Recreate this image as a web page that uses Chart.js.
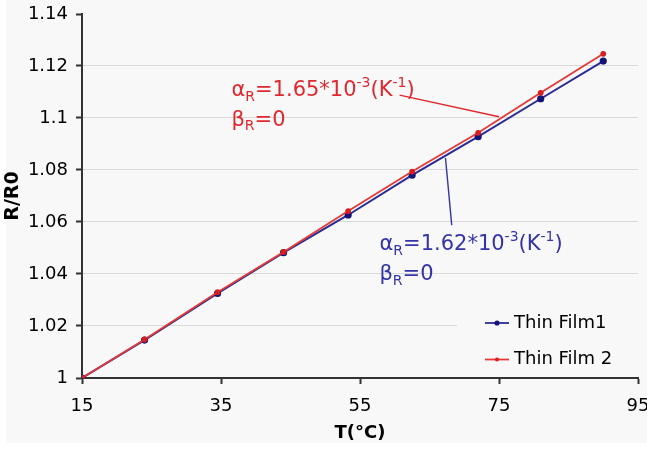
<!DOCTYPE html>
<html>
<head>
<meta charset="utf-8">
<script src="https://cdn.jsdelivr.net/npm/chart.js@4.4.1/dist/chart.umd.min.js"></script>
<style>
html,body{margin:0;padding:0;background:#fff;}
</style>
</head>
<body>
<canvas id="chart" width="647" height="449"></canvas>
<script>
// Temperature sweep and normalised resistance of both films
const temps = [15, 24, 34.5, 44, 53.3, 62.5, 72, 81, 90];
const film1 = [1, 1.0146, 1.0325, 1.0482, 1.0627, 1.0780, 1.0928, 1.1074, 1.1219];
const film2 = [1, 1.0148, 1.0330, 1.0485, 1.0642, 1.0794, 1.0943, 1.1097, 1.1247];
const seriesNames = ['Thin Film1', 'Thin Film 2'];
const xTicks = [15, 35, 55, 75, 95];
const yTicks = [1, 1.02, 1.04, 1.06, 1.08, 1.1, 1.12, 1.14];
const alphaValues = ['1.65', '1.62'];

const FONT = "'DejaVu Sans', Verdana, sans-serif";
const BG = '#f8f8f8';
const AXIS = '#333333';
const BLUE = '#2b2b96';
const RED = '#e53935';

// fitted coefficient callouts, anchored in data units
const notes = [
    {color: '#e0282e', at: [36.5, 1.1105, 1.0992], alpha: alphaValues[0], lead: [[60.7, 1.1088], [75.0, 1.1005]]},
    {color: '#3434a6', at: [57.8, 1.0512, 1.0396], alpha: alphaValues[1], lead: [[67.3, 1.0846], [68.2, 1.0588]]}
];

// draws text runs with sub/superscripts, middle baseline
function drawRich(ctx, x, y, parts, size){
    ctx.textBaseline = 'middle';
    ctx.textAlign = 'left';
    parts.forEach(([t, s])=>{
        const fs = s === 0 ? size : Math.round(size*0.65);
        ctx.font = fs + 'px ' + FONT;
        const dy = s < 0 ? size*0.3 : (s > 0 ? -size*0.36 : 0);
        ctx.fillText(t, x, y + dy);
        x += ctx.measureText(t).width;
    });
}

const decorPlugin = {
    id: 'decor',
    beforeDraw(chart){
        const ctx = chart.ctx;
        ctx.save();
        ctx.fillStyle = '#ffffff';
        ctx.fillRect(0, 0, chart.width, chart.height);
        ctx.fillStyle = BG;
        ctx.fillRect(6, 0, chart.width - 6, 443);
        ctx.restore();
    },
    beforeDatasetsDraw(chart){
        // legend panel hides the grid behind it
        const ctx = chart.ctx, ca = chart.chartArea;
        ctx.save();
        ctx.fillStyle = BG;
        ctx.fillRect(ca.right - 181, ca.bottom - 78, 184, 76);
        ctx.restore();
    },
    afterDatasetsDraw(chart){
        const ctx = chart.ctx, ca = chart.chartArea;
        const xs = chart.scales.x, ys = chart.scales.y;
        ctx.save();

        notes.forEach(n=>{
            ctx.strokeStyle = n.color;
            ctx.lineWidth = 1.4;
            ctx.beginPath();
            ctx.moveTo(xs.getPixelForValue(n.lead[0][0]), ys.getPixelForValue(n.lead[0][1]));
            ctx.lineTo(xs.getPixelForValue(n.lead[1][0]), ys.getPixelForValue(n.lead[1][1]));
            ctx.stroke();
            ctx.fillStyle = n.color;
            const tx = xs.getPixelForValue(n.at[0]);
            drawRich(ctx, tx, ys.getPixelForValue(n.at[1]),
                [['α',0],['R',-1],['=' + n.alpha + '*10',0],['-3',1],['(K',0],['-1',1],[')',0]], 21);
            drawRich(ctx, tx, ys.getPixelForValue(n.at[2]),
                [['β',0],['R',-1],['=0',0]], 21);
        });

        // legend
        chart.data.datasets.forEach((ds, i)=>{
            const y = ca.bottom - 55 + i*36.5;
            const x0 = ca.right - 153;
            ctx.strokeStyle = ds.borderColor;
            ctx.lineWidth = 1.8;
            ctx.beginPath();
            ctx.moveTo(x0, y);
            ctx.lineTo(x0 + 24, y);
            ctx.stroke();
            ctx.fillStyle = ds.pointBackgroundColor;
            ctx.beginPath();
            ctx.arc(x0 + 12, y, ds.pointRadius, 0, Math.PI*2);
            ctx.fill();
            ctx.fillStyle = '#000';
            ctx.font = '18px ' + FONT;
            ctx.textBaseline = 'middle';
            ctx.textAlign = 'left';
            ctx.fillText(ds.label, x0 + 29, y);
        });
        ctx.restore();
    }
};

const points = vals => temps.map((t, i)=>({x: t, y: vals[i]}));

new Chart(document.getElementById('chart'), {
    type: 'line',
    data: {
        datasets: [
            {label: seriesNames[0], data: points(film1), borderColor: BLUE, backgroundColor: '#141478',
             pointBackgroundColor: '#141478', pointBorderColor: '#141478', pointRadius: 2.6,
             borderWidth: 2, tension: 0, order: 1},
            {label: seriesNames[1], data: points(film2), borderColor: RED, backgroundColor: '#d81e1e',
             pointBackgroundColor: '#d81e1e', pointBorderColor: '#d81e1e', pointRadius: 2,
             borderWidth: 1.8, tension: 0, order: 0}
        ]
    },
    options: {
        responsive: false,
        animation: false,
        layout: {padding: {left: 0, top: 14, right: 9, bottom: 0}},
        plugins: {legend: {display: false}, tooltip: {enabled: false}},
        scales: {
            x: {
                type: 'linear', min: 15, max: 95,
                afterBuildTicks: s => { s.ticks = xTicks.map(v=>({value: v})); },
                afterFit: s => { s.height = 71; s.paddingLeft = 0; s.paddingRight = 0; },
                grid: {drawOnChartArea: false, drawTicks: true, tickLength: 6, tickColor: AXIS, tickWidth: 2},
                border: {display: true, color: AXIS, width: 2},
                ticks: {color: '#000', font: {family: FONT, size: 18}, padding: 12, maxRotation: 0,
                        callback: v => String(v)},
                title: {display: true, text: 'T(°C)', color: '#000',
                        font: {family: FONT, size: 18, weight: 'bold'}, padding: {top: 0, bottom: 5}}
            },
            y: {
                type: 'linear', min: 1, max: 1.14,
                afterBuildTicks: s => { s.ticks = yTicks.map(v=>({value: v})); },
                afterFit: s => { s.width = 82; s.paddingTop = 0; s.paddingBottom = 0; },
                grid: {color: c => c.index === yTicks.length - 1 ? 'rgba(0,0,0,0)' : '#d9d9d9',
                       lineWidth: 1, drawTicks: true, tickLength: 6, tickColor: AXIS, tickWidth: 2},
                border: {display: true, color: AXIS, width: 2},
                ticks: {color: '#000', font: {family: FONT, size: 18}, padding: 8,
                        callback: v => String(+v.toFixed(2))},
                title: {display: true, text: 'R/R0', color: '#000',
                        font: {family: FONT, size: 19, weight: 'bold'}, padding: {top: 2, bottom: 0}}
            }
        }
    },
    plugins: [decorPlugin]
});
</script>
</body>
</html>
